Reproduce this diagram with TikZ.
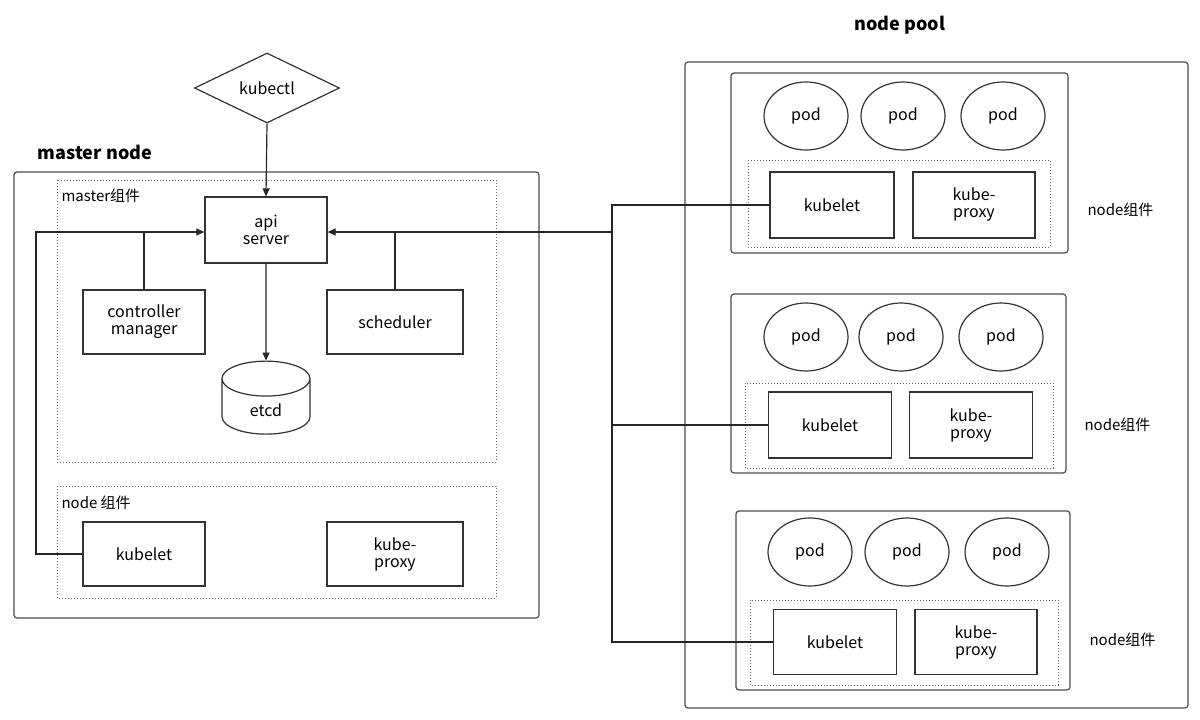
\documentclass[tikz,border=0pt]{standalone}
\usepackage{fontspec}
\setmainfont{Noto Sans CJK SC}
\usetikzlibrary{shapes.geometric,arrows.meta}
\begin{document}
\begin{tikzpicture}[x=1pt,y=-1pt,
  box/.style={draw=black!80,line width=1.2pt,fill=white,align=center,font=\fontsize{16}{17}\selectfont,inner sep=0},
  outer/.style={draw=black!70,line width=1.2pt,rounded corners=3pt},
  dot/.style={draw=black!60,dotted,line width=1pt},
  pod/.style={draw=black!80,line width=1.2pt,ellipse,minimum width=84pt,minimum height=68pt,font=\fontsize{16}{17}\selectfont},
  lab/.style={font=\fontsize{15}{16}\selectfont,anchor=west},
  title/.style={font=\bfseries\fontsize{18}{19}\selectfont},
  conn/.style={line width=1.2pt,draw=black!85},
  arr/.style={conn,-{Triangle[length=8pt,width=7pt]}}]
\useasboundingbox (0,0) rectangle (1200,720);
% master
\node[title] (mt) at (95,152) {master node};
\draw[outer] (14,172) rectangle (539,618);
\draw[dot] (57,180) rectangle (496,462);
\node[lab] (ml) at (58,196) {master组件};
\draw[dot] (57,486) rectangle (496,598);
\node[lab] (nl) at (58,503) {node 组件};
\node[diamond,draw=black!80,line width=1.2pt,minimum width=145pt,minimum height=70pt,inner sep=0,font=\fontsize{16}{17}\selectfont] (kc) at (267,88) {kubectl};
\node[box,minimum width=122pt,minimum height=66pt] (api) at (266,230) {api\\server};
\node[box,minimum width=122pt,minimum height=64pt] (cm) at (144,322) {controller\\manager};
\node[box,minimum width=136pt,minimum height=64pt] (sch) at (395,322) {scheduler};
\node[cylinder,shape border rotate=90,draw=black!80,line width=1.2pt,minimum width=88pt,minimum height=73pt,aspect=0.9,font=\fontsize{16}{17}\selectfont] (etcd) at (266,410) {etcd};
\node[box,minimum width=122pt,minimum height=64pt] (mk) at (144,554) {kubelet};
\node[box,minimum width=136pt,minimum height=64pt] (mp) at (395,554) {kube-\\proxy};
\draw[arr] (kc.south) -- (api.north);
\draw[arr] (api.south) -- (etcd.north);
\coordinate (la) at (36,232);
\draw[arr] (mk.west) -| (la) -- (api.west|-la);
\draw[conn] (cm.north) -- (cm.north|-la);
\coordinate (ra) at (612,232);
\draw[arr] (ra) -- (api.east|-ra);
\draw[conn] (sch.north) -- (sch.north|-ra);
% pool
\node[title] (pt) at (900,25) {node pool};
\draw[outer] (685,62) rectangle (1188,708);
\foreach \i/\xa/\ya/\xb/\yb/\dy in {1/731/73/1068/253/0,2/731/294/1066/473/0,3/736/511/1070/690/0}{
  \draw[outer] (\xa,\ya) rectangle (\xb,\yb);
}
\foreach \i/\x/\y in {1/806/116,2/903/116,3/1003/116,4/806/337,5/901/337,6/1001/337,7/810/552,8/907/552,9/1007/552}{
  \node[pod] (p\i) at (\x,\y) {pod};
}
\draw[dot] (748,160) rectangle (1050,247);
\draw[dot] (745,383) rectangle (1053,468);
\draw[dot] (750,600) rectangle (1058,685);
\node[box,minimum width=124pt,minimum height=66pt] (k1) at (832,205) {kubelet};
\node[box,minimum width=122pt,minimum height=66pt] (x1) at (974,205) {kube-\\proxy};
\node[box,minimum width=123pt,minimum height=66pt] (k2) at (830,425) {kubelet};
\node[box,minimum width=123pt,minimum height=66pt] (x2) at (971,425) {kube-\\proxy};
\node[box,minimum width=123pt,minimum height=65pt] (k3) at (835,642) {kubelet};
\node[box,minimum width=122pt,minimum height=65pt] (x3) at (976,642) {kube-\\proxy};
\node[lab] (n1) at (1084,210) {node组件};
\node[lab] (n2) at (1081,425) {node组件};
\node[lab] (n3) at (1086,640) {node组件};
\coordinate (v1) at (612,205);
\coordinate (v2) at (612,425);
\coordinate (v3) at (612,642);
\draw[conn] (k1.west) -- (v1) -- (v3) -- (k3.west);
\draw[conn] (k2.west) -- (v2);
\end{tikzpicture}
\end{document}
